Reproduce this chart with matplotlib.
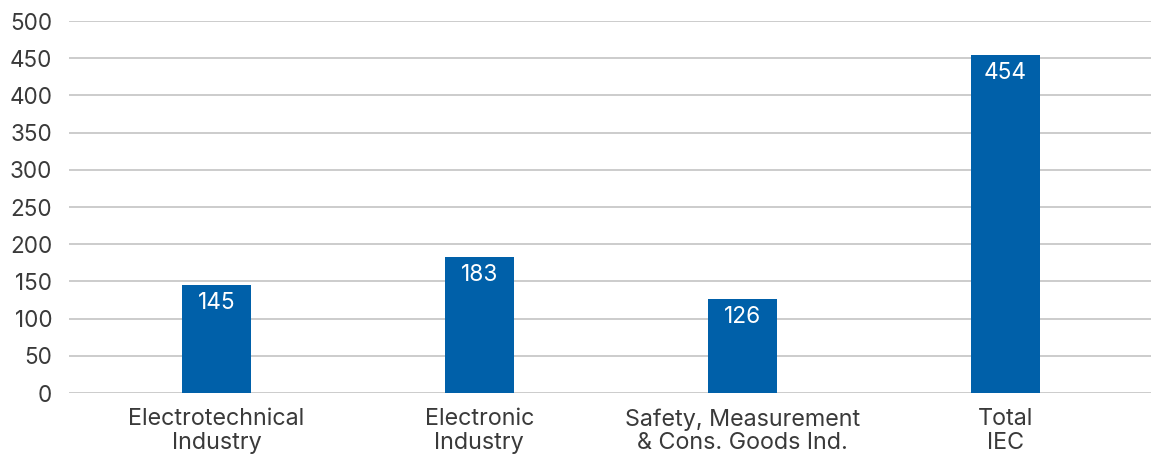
import matplotlib
matplotlib.use("Agg")
import matplotlib.pyplot as plt

categories = ["Electrotechnical\nIndustry", "Electronic\nIndustry",
              "Safety, Measurement\n& Cons. Goods Ind.", "Total\nIEC"]
values = [145, 183, 126, 454]
yticks = [0, 50, 100, 150, 200, 250, 300, 350, 400, 450, 500]

plt.rcParams['font.family'] = ['Inter', 'DejaVu Sans']

fig = plt.figure(figsize=(11.51, 4.57), dpi=100)
ax = fig.add_axes([69/1151, 1-393/457, 1-69/1151, (393-21)/457])

x = list(range(len(categories)))
bars = ax.bar(x, values, width=0.262, color='#0060A9', zorder=3)
for xi, v in zip(x, values):
    ax.annotate(str(v), (xi, v), xytext=(0, -5), textcoords='offset points',
                ha='center', va='top', color='white', fontsize=16.3, zorder=4)

ax.set_xlim(-0.561, 3.555)
ax.set_ylim(0, 500)
ax.set_yticks(yticks)
ax.set_xticks(x)
ax.set_xticklabels(categories, linespacing=1.1)
ax.grid(axis='y', color='#c8c8c8', linewidth=1.3, zorder=0)
for s in ax.spines.values():
    s.set_visible(False)
ax.tick_params(axis='both', length=0, labelcolor='#3a3a3a')
ax.tick_params(axis='y', pad=12, labelsize=16.2)
ax.tick_params(axis='x', pad=11, labelsize=16.8)

fig.savefig("out.png", dpi=100)
